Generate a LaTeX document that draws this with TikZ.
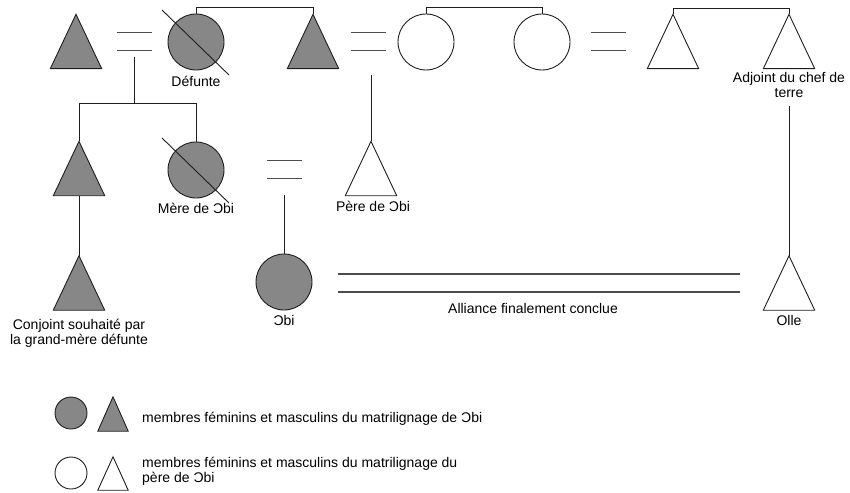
\documentclass[tikz,border=0pt]{standalone}
\usepackage{fontspec}
\setmainfont{Liberation Sans}
\usetikzlibrary{calc}
\definecolor{matri}{RGB}{135,135,135}
\definecolor{trait}{RGB}{30,30,30}
\tikzset{
  femme/.style={circle,draw=trait,line width=0.9pt,inner sep=0,minimum size=56},
  homme/.style={rectangle,inner sep=0,minimum width=51,minimum height=54},
  lbl/.style={anchor=base,align=center,inner sep=0,font=\fontsize{14}{15}\selectfont},
  egal/.style={black!70,line width=1.2pt},
}
% triangle drawn on the box of a node
\newcommand{\masc}[2]{\draw[trait,line width=0.9pt,fill=#2] (#1.north) -- (#1.south east) -- (#1.south west) -- cycle;}
% barred circle for a dead person
\newcommand{\barre}[1]{\draw[trait,line width=0.9pt] ([shift={(-34,-32)}]#1.center) -- ([shift={(33,33)}]#1.center);}
% marriage sign between two nodes
\newcommand{\mariage}[2]{
  \coordinate (#1#2) at ($(#1.east)!0.5!(#2.west)$);
  \foreach \dy in {-9,9}
    \draw[egal] ([shift={(-17.5,\dy)}]#1#2) -- ([shift={(17.5,\dy)}]#1#2);
}
\begin{document}
\begin{tikzpicture}[x=1pt,y=-1pt]
  \useasboundingbox (0,0) rectangle (850,492);
  % first generation
  \node[homme] (epoux) at (76,41.5) {};
  \node[femme,fill=matri] (defunte) at (196,42) {};
  \node[homme] (frere) at (313,41.5) {};
  \node[femme,fill=white] (epouse) at (426,42) {};
  \node[femme,fill=white] (soeur) at (542,42) {};
  \node[homme] (mari) at (673,41.5) {};
  \node[homme] (adjoint) at (789,41.5) {};
  % second and third generation
  \node[homme] (fils) at (79,168.5) {};
  \node[femme,fill=matri] (mere) at (196,170) {};
  \node[homme] (pere) at (371,168.5) {};
  \node[homme] (conjoint) at (79,283) {};
  \node[femme,fill=matri] (obi) at (284,282) {};
  \node[homme] (olle) at (789,283) {};
  \foreach \n in {epoux,frere,fils,conjoint} {\masc{\n}{matri}}
  \foreach \n in {mari,adjoint,pere,olle} {\masc{\n}{white}}
  \barre{defunte}
  \barre{mere}
  % alliances
  \mariage{epoux}{defunte}
  \mariage{frere}{epouse}
  \mariage{soeur}{mari}
  \mariage{mere}{pere}
  % siblings and descent
  \begin{scope}[trait,line width=0.9pt]
    \draw (defunte.north) -- ++(0,-6) -| (frere.north);
    \draw (epouse.north) -- ++(0,-6) -| (soeur.north);
    \draw (mari.north) -- ++(0,-6) -| (adjoint.north);
    \draw ([shift={(0,15)}]epouxdefunte) -- ++(0,47) coordinate (fratrie);
    \draw (fils.north) |- (fratrie) -| (mere.north);
    \draw ($(pere.north |- frereepouse)+(0,33)$) -- (pere.north);
    \draw ($(obi.north |- merepere)+(0,26)$) -- (obi.north);
    \draw ($(adjoint.south)+(0,37)$) -- (olle.north);
    \draw (fils.south) -- (conjoint.north);
  \end{scope}
  \draw[egal] ([shift={(26,-8)}]obi.east) -- ([shift={(-23,-9)}]olle.west);
  \draw[egal] ([shift={(26,10)}]obi.east) -- ([shift={(-23,9)}]olle.west);
  % labels (base of a multi-line node is its last line)
  \node[lbl] (ldefunte) at (196,87) {Défunte};
  \node[lbl] (ladjoint) at (789,98) {Adjoint du chef de\\terre};
  \node[lbl] (lmere) at (196,213) {Mère de Ɔbi};
  \node[lbl] (lpere) at (373,211) {Père de Ɔbi};
  \node[lbl] (lconjoint) at (79,344) {Conjoint souhaité par\\la grand-mère défunte};
  \node[lbl] (lobi) at (284,325) {Ɔbi};
  \node[lbl] (lalliance) at (533,313) {Alliance finalement conclue};
  \node[lbl] (lolle) at (789,325) {Olle};
  % legend
  \node[femme,fill=matri,minimum size=32] (legf1) at (71,413) {};
  \node[homme,minimum width=30,minimum height=34] (legm1) at (113,414) {};
  \node[femme,fill=white,minimum size=32] (legf2) at (71,473) {};
  \node[homme,minimum width=30,minimum height=33] (legm2) at (113,473.5) {};
  \masc{legm1}{matri}
  \masc{legm2}{white}
  \node[lbl,anchor=base west,align=left] (leg1) at (142,422) {membres féminins et masculins du matrilignage de Ɔbi};
  \node[lbl,anchor=base west,align=left] (leg2) at (142,482) {membres féminins et masculins du matrilignage du\\père de Ɔbi};
\end{tikzpicture}
\end{document}
